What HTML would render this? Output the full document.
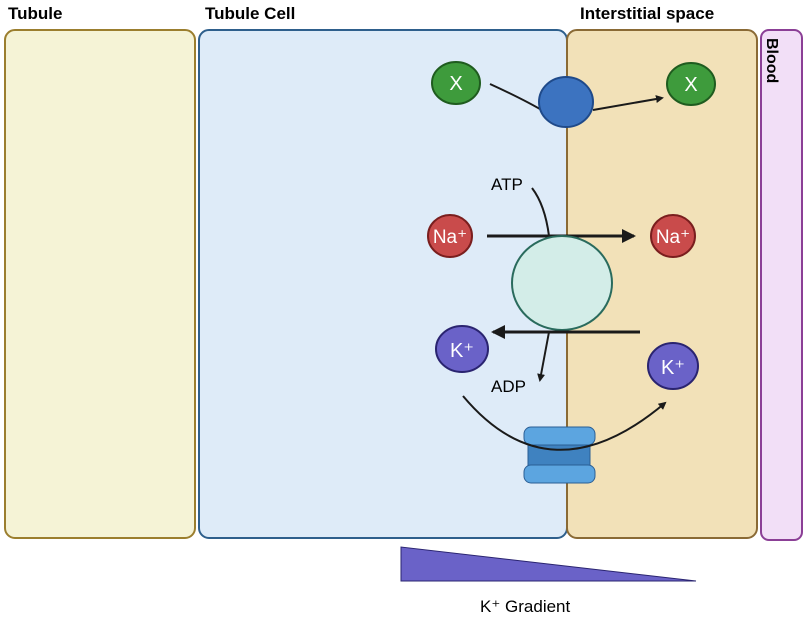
<!DOCTYPE html>
<html><head><style>
body{margin:0;width:809px;height:618px;background:#fff;overflow:hidden}
svg{display:block}
text{font-family:"Liberation Sans",sans-serif}
</style></head><body>
<svg width="809" height="618" viewBox="0 0 809 618">
<defs><marker id="a" markerWidth="8" markerHeight="8" refX="6" refY="4" orient="auto" markerUnits="userSpaceOnUse"><path d="M0,0 L8,4 L0,8 Z" fill="#1a1a1a"/></marker>
<marker id="b" markerWidth="14" markerHeight="14" refX="12" refY="7" orient="auto" markerUnits="userSpaceOnUse"><path d="M0,0 L14,7 L0,14 Z" fill="#1a1a1a"/></marker></defs>
<text x="8" y="19" font-size="17" font-weight="bold">Tubule</text>
<text x="205" y="19" font-size="17" font-weight="bold">Tubule Cell</text>
<text x="580" y="19" font-size="17" font-weight="bold">Interstitial space</text>
<rect x="5" y="30" width="190" height="508" rx="10" fill="#f5f3d6" stroke="#9b7e2e" stroke-width="2"/>
<rect x="199" y="30" width="368" height="508" rx="10" fill="#deebf8" stroke="#2e5f8c" stroke-width="2"/>
<rect x="567" y="30" width="190" height="508" rx="10" fill="#f2e1b8" stroke="#8a6a35" stroke-width="2"/>
<rect x="761" y="30" width="41" height="510" rx="8" fill="#f2dff7" stroke="#8b3f96" stroke-width="2"/>
<text transform="translate(767,38) rotate(90)" font-size="16" font-weight="bold">Blood</text>
<path d="M490,84 Q525,100 545,112" fill="none" stroke="#1a1a1a" stroke-width="2"/>
<line x1="593" y1="110" x2="662" y2="98" stroke="#1a1a1a" stroke-width="2" marker-end="url(#a)"/>
<ellipse cx="456" cy="83" rx="24" ry="21" fill="#3e9b3c" stroke="#1f5c1f" stroke-width="2"/>
<text x="456" y="90" font-size="20" fill="#fff" text-anchor="middle">X</text>
<ellipse cx="691" cy="84" rx="24" ry="21" fill="#3e9b3c" stroke="#1f5c1f" stroke-width="2"/>
<text x="691" y="91" font-size="20" fill="#fff" text-anchor="middle">X</text>
<ellipse cx="566" cy="102" rx="27" ry="25" fill="#3c73c0" stroke="#1f4a8a" stroke-width="2"/>
<text x="491" y="190" font-size="17">ATP</text>
<path d="M532,188 Q545,205 549,236" fill="none" stroke="#1a1a1a" stroke-width="2"/>
<line x1="487" y1="236" x2="634" y2="236" stroke="#1a1a1a" stroke-width="3" marker-end="url(#b)"/>
<ellipse cx="450" cy="236" rx="22" ry="21" fill="#c94b4b" stroke="#7a1e1e" stroke-width="2"/>
<text x="450" y="243" font-size="19" fill="#fff" text-anchor="middle">Na⁺</text>
<ellipse cx="673" cy="236" rx="22" ry="21" fill="#c94b4b" stroke="#7a1e1e" stroke-width="2"/>
<text x="673" y="243" font-size="19" fill="#fff" text-anchor="middle">Na⁺</text>
<ellipse cx="562" cy="283" rx="50" ry="47" fill="#d3ede8" stroke="#2a6b5d" stroke-width="2"/>
<line x1="640" y1="332" x2="493" y2="332" stroke="#1a1a1a" stroke-width="3" marker-end="url(#b)"/>
<line x1="549" y1="332" x2="540" y2="380" stroke="#1a1a1a" stroke-width="2" marker-end="url(#a)"/>
<text x="491" y="392" font-size="17">ADP</text>
<ellipse cx="462" cy="349" rx="26" ry="23" fill="#6a62c8" stroke="#2a2470" stroke-width="2"/>
<text x="462" y="357" font-size="20" fill="#fff" text-anchor="middle">K⁺</text>
<ellipse cx="673" cy="366" rx="25" ry="23" fill="#6a62c8" stroke="#2a2470" stroke-width="2"/>
<text x="673" y="374" font-size="20" fill="#fff" text-anchor="middle">K⁺</text>
<rect x="528" y="440" width="62" height="26" fill="#3f82c0" stroke="#2a5e95" stroke-width="1"/>
<rect x="524" y="427" width="71" height="18" rx="7" fill="#5ca5e0" stroke="#2a5e95" stroke-width="1"/>
<rect x="524" y="465" width="71" height="18" rx="7" fill="#5ca5e0" stroke="#2a5e95" stroke-width="1"/>
<path d="M463,396 Q550,500 665,403" fill="none" stroke="#1a1a1a" stroke-width="2" marker-end="url(#a)"/>
<polygon points="401,547 401,581 696,581" fill="#6a62c8" stroke="#2a2470" stroke-width="1"/>
<text x="480" y="612" font-size="17">K⁺ Gradient</text>
</svg>
</body></html>
